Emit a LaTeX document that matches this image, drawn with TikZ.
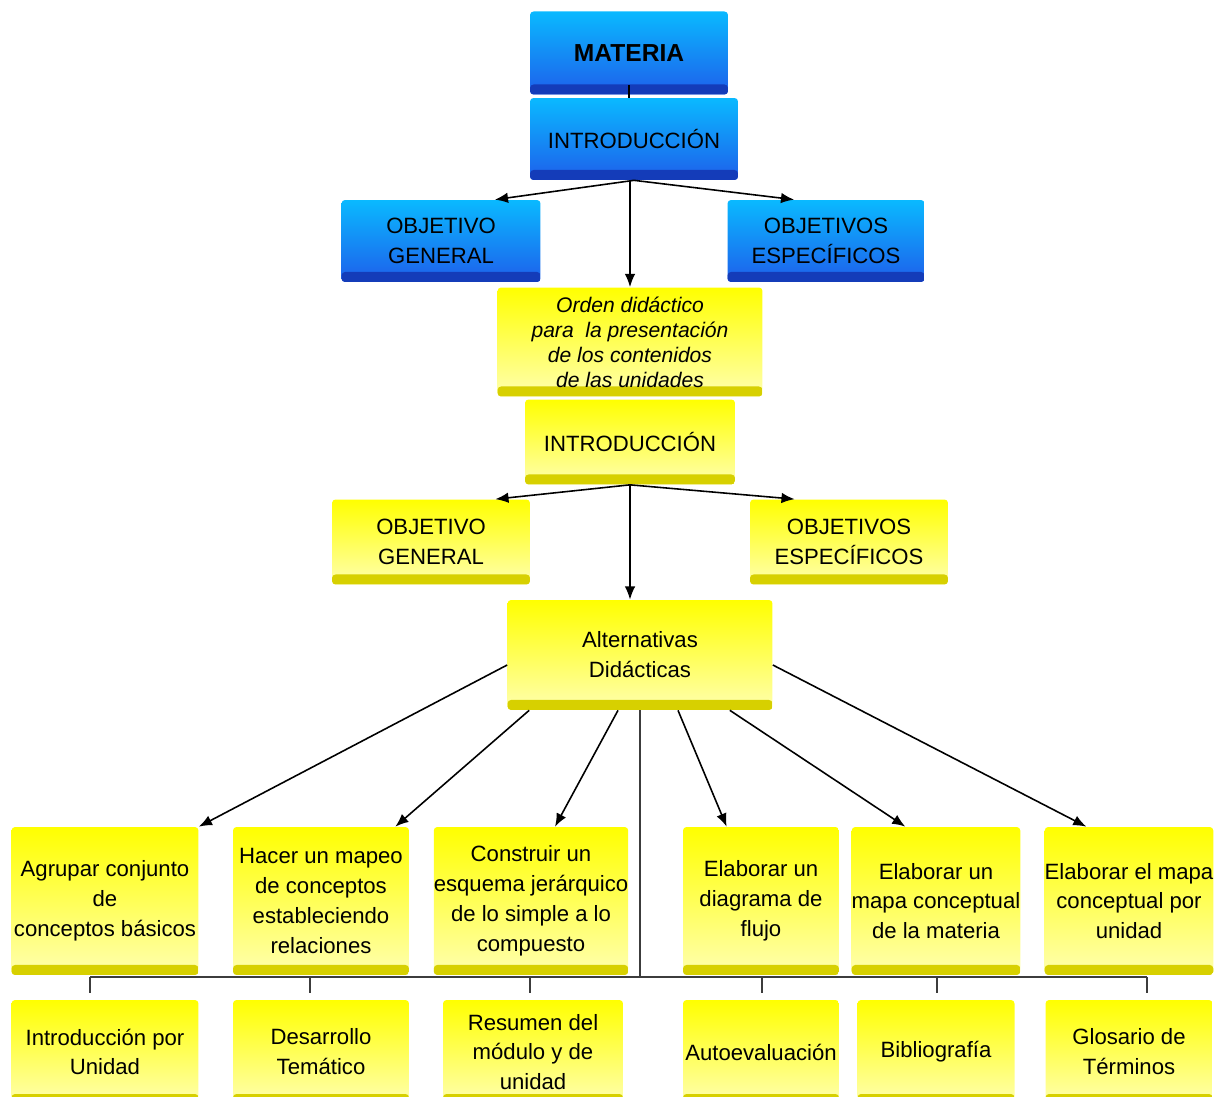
\documentclass[tikz,border=0pt]{standalone}
\usepackage{fontspec}
\setmainfont{Liberation Sans}
\usetikzlibrary{arrows.meta}

\definecolor{azulclaro}{RGB}{10,185,255}
\definecolor{azul}{RGB}{30,95,235}
\definecolor{azulosc}{RGB}{20,60,185}
\definecolor{amarillo}{RGB}{255,255,0}
\definecolor{amarilloclaro}{RGB}{255,255,175}
\definecolor{amarillosc}{RGB}{215,208,0}
\definecolor{linea}{RGB}{60,60,60}

\begin{document}
\begin{tikzpicture}[x=0.02cm,y=-0.02cm,>={Latex[length=7.5pt,width=6pt]},
    caja/.style={rounded corners=2pt,inner sep=0pt,align=center,
      font=\fontsize{12.6}{17}\selectfont},
    azulcaja/.style={caja,top color=azulclaro,bottom color=azul,
      path picture={\fill[azulosc] (path picture bounding box.south west)
        rectangle ([yshift=0.2cm]path picture bounding box.south east);}},
    amacaja/.style={caja,top color=amarillo,bottom color=amarilloclaro,
      path picture={\fill[amarillosc] (path picture bounding box.south west)
        rectangle ([yshift=0.2cm]path picture bounding box.south east);}},
    flecha/.style={->,line width=0.9pt},
    bus/.style={line width=1.2pt,linea}]

    % Fondo
    \path[use as bounding box,fill=white] (0,0) rectangle (1223,1097);

    % Bloque azul
    \node[azulcaja,minimum width=3.96cm,minimum height=1.66cm,
      font=\fontsize{14}{17}\selectfont\bfseries] (mat) at (629,53) {MATERIA};
    \node[azulcaja,minimum width=4.16cm,minimum height=1.64cm] (in1) at (634,139) {INTRODUCCIÓN};
    \node[azulcaja,minimum width=3.98cm,minimum height=1.64cm] (og1) at (441,241) {OBJETIVO\\GENERAL};
    \node[azulcaja,minimum width=3.94cm,minimum height=1.64cm] (oe1) at (826,241) {OBJETIVOS\\ESPECÍFICOS};

    % Bloque amarillo
    \node[amacaja,minimum width=5.3cm,minimum height=2.18cm,
      font=\fontsize{12}{14.2}\selectfont\itshape] (od) at (630,342)
      {Orden didáctico\\para\ \ la presentación\\de los contenidos\\de las unidades};
    \node[amacaja,minimum width=4.2cm,minimum height=1.7cm] (in2) at (630,442) {INTRODUCCIÓN};
    \node[amacaja,minimum width=3.96cm,minimum height=1.7cm] (og2) at (431,542) {OBJETIVO\\GENERAL};
    \node[amacaja,minimum width=3.96cm,minimum height=1.7cm] (oe2) at (849,542) {OBJETIVOS\\ESPECÍFICOS};
    \node[amacaja,minimum width=5.3cm,minimum height=2.2cm] (alt) at (640,655) {Alternativas\\Didácticas};

    % Alternativas
    \node[amacaja,minimum width=3.74cm,minimum height=2.96cm] (ag) at (105,901) {Agrupar conjunto\\de\\conceptos básicos};
    \node[amacaja,minimum width=3.52cm,minimum height=2.96cm] (hm) at (321,901) {Hacer un mapeo\\de conceptos\\estableciendo\\relaciones};
    \node[amacaja,minimum width=3.8cm,minimum height=2.96cm] (ce) at (531,901) {Construir un\\esquema jerárquico\\de lo simple a lo\\compuesto};
    \node[amacaja,minimum width=3.12cm,minimum height=2.96cm] (ed) at (761,901) {Elaborar un\\diagrama de\\flujo};
    \node[amacaja,minimum width=3.14cm,minimum height=2.96cm] (em) at (936,901) {Elaborar un\\mapa conceptual\\de la materia};
    \node[amacaja,minimum width=3.34cm,minimum height=2.96cm] (ep) at (1129,901) {Elaborar el mapa\\conceptual por\\unidad};

    % Partes de la unidad
    \node[amacaja,minimum width=3.74cm,minimum height=2.08cm] (ir) at (105,1052) {Introducción por\\Unidad};
    \node[amacaja,minimum width=3.52cm,minimum height=2.08cm] (dt) at (321,1052) {Desarrollo\\Temático};
    \node[amacaja,minimum width=3.6cm,minimum height=2.08cm] (rm) at (533,1052) {Resumen del\\módulo y de\\unidad};
    \node[amacaja,minimum width=3.12cm,minimum height=2.08cm] (ae) at (761,1052) {Autoevaluación};
    \node[amacaja,minimum width=3.14cm,minimum height=2.08cm] (bi) at (936,1052) {Bibliografía};
    \node[amacaja,minimum width=3.34cm,minimum height=2.08cm] (gl) at (1129,1052) {Glosario de\\Términos};

    % Flechas
    \draw[line width=0.9pt] ([yshift=0.2cm]mat.south) -- (mat.south |- in1.north);
    \draw[flecha] (in1.south) -- ([xshift=-0.92cm]og1.north east);
    \draw[flecha] (in1.south) -- ([xshift=1.34cm]oe1.north west);
    \draw[flecha] (in1.south -| od.north) -- (od.north);

    \draw[flecha] (in2.south) -- ([xshift=-0.7cm]og2.north east);
    \draw[flecha] (in2.south) -- ([xshift=0.9cm]oe2.north west);
    \draw[flecha] (in2.south) -- (in2.south |- alt.north);

    \draw[flecha] ([yshift=-0.2cm]alt.west) -- (ag.north east);
    \draw[flecha] ([xshift=0.44cm]alt.south west) -- ([xshift=-0.28cm]hm.north east);
    \draw[flecha] ([xshift=-0.44cm]alt.south) -- ([xshift=0.48cm]ce.north);
    \draw[flecha] ([xshift=0.76cm]alt.south) -- ([xshift=0.88cm]ed.north west);
    \draw[flecha] ([xshift=-0.86cm]alt.south east) -- ([xshift=1.08cm]em.north west);
    \draw[flecha] ([yshift=-0.2cm]alt.east) -- ([xshift=0.84cm]ep.north west);

    % Barra inferior
    \coordinate (busL) at (90,977);
    \coordinate (busR) at (1147,977);
    \draw[bus] (busL) -- (busR);
    \draw[bus] (alt.south) -- (alt.south |- busL);
    \foreach \n/\x in {ir/90,dt/310,rm/530,ae/762,bi/937,gl/1147}
      \draw[bus,shorten >=0.14cm] (\x,977) -- (\x,0 |- \n.north);

\end{tikzpicture}
\end{document}
